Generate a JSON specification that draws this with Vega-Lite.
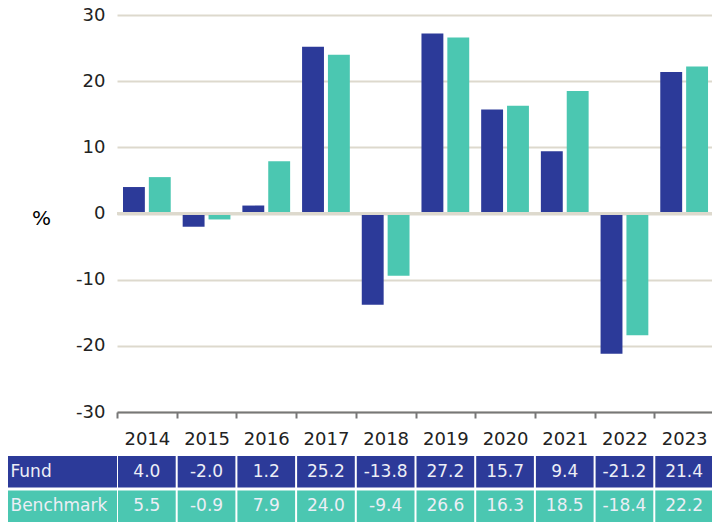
{
  "$schema": "https://vega.github.io/schema/vega-lite/v6.json",
  "padding": {"left": 8, "top": 6, "right": 0, "bottom": 0},
  "autosize": {"type": "pad"},
  "config": {
    "view": {"stroke": null},
    "font": "DejaVu Sans",
    "axis": {"labelFont": "DejaVu Sans", "titleFont": "DejaVu Sans"},
    "locale": {
      "number": {
        "decimal": ".",
        "thousands": ",",
        "grouping": [3],
        "currency": ["$", ""],
        "minus": "-"
      }
    }
  },
  "datasets": {
    "perf": [
      {"year": "2014", "series": "Fund", "value": 4.0},
      {"year": "2015", "series": "Fund", "value": -2.0},
      {"year": "2016", "series": "Fund", "value": 1.2},
      {"year": "2017", "series": "Fund", "value": 25.2},
      {"year": "2018", "series": "Fund", "value": -13.8},
      {"year": "2019", "series": "Fund", "value": 27.2},
      {"year": "2020", "series": "Fund", "value": 15.7},
      {"year": "2021", "series": "Fund", "value": 9.4},
      {"year": "2022", "series": "Fund", "value": -21.2},
      {"year": "2023", "series": "Fund", "value": 21.4},
      {"year": "2014", "series": "Benchmark", "value": 5.5},
      {"year": "2015", "series": "Benchmark", "value": -0.9},
      {"year": "2016", "series": "Benchmark", "value": 7.9},
      {"year": "2017", "series": "Benchmark", "value": 24.0},
      {"year": "2018", "series": "Benchmark", "value": -9.4},
      {"year": "2019", "series": "Benchmark", "value": 26.6},
      {"year": "2020", "series": "Benchmark", "value": 16.3},
      {"year": "2021", "series": "Benchmark", "value": 18.5},
      {"year": "2022", "series": "Benchmark", "value": -18.4},
      {"year": "2023", "series": "Benchmark", "value": 22.2}
    ]
  },
  "columns": 2,
  "bounds": "flush",
  "spacing": {"row": 44, "column": 0},
  "concat": [
    {
      "width": 109,
      "height": 397,
      "data": {"values": []},
      "mark": "point"
    },
    {
      "width": 597,
      "height": 397,
      "data": {"name": "perf"},
      "layer": [
        {
          "mark": {"type": "bar"},
          "encoding": {
            "x": {
              "field": "year",
              "type": "ordinal",
              "scale": {"paddingInner": 0, "paddingOuter": 0},
              "axis": {
                "title": null,
                "labelAngle": 0,
                "labelFontSize": 18,
                "labelColor": "#222222",
                "labelPadding": 12,
                "domainColor": "#777777",
                "domainWidth": 2,
                "tickColor": "#777777",
                "tickWidth": 2,
                "tickSize": 6,
                "tickBand": "extent",
                "grid": false
              }
            },
            "xOffset": {
              "field": "series",
              "type": "nominal",
              "sort": ["Fund", "Benchmark"],
              "scale": {"paddingInner": 0.1538, "paddingOuter": 0.2308}
            },
            "y": {
              "field": "value",
              "type": "quantitative",
              "scale": {"domain": [-30, 30], "nice": false},
              "axis": {
                "values": [-30, -20, -10, 0, 10, 20, 30],
                "title": "%",
                "titleAngle": 0,
                "titleFontSize": 20,
                "titleFontWeight": "normal",
                "titleColor": "#000000",
                "titleAlign": "center",
                "titleBaseline": "middle",
                "titleX": -76,
                "titleY": 203,
                "domain": false,
                "ticks": false,
                "labelPadding": 12,
                "labelFontSize": 18,
                "labelColor": "#222222",
                "gridColor": "#ddd9cd",
                "gridWidth": 2
              }
            },
            "color": {
              "field": "series",
              "type": "nominal",
              "scale": {"domain": ["Fund", "Benchmark"], "range": ["#2c3a99", "#4bc7b1"]},
              "legend": null
            }
          }
        },
        {
          "mark": {"type": "rule", "color": "#ddd9cd", "strokeWidth": 2},
          "encoding": {"y": {"datum": 0}}
        }
      ]
    },
    {
      "width": 109,
      "height": 66,
      "data": {"values": [{"series": "Fund"}, {"series": "Benchmark"}]},
      "mark": {"type": "rect"},
      "encoding": {
        "y": {
          "field": "series",
          "type": "nominal",
          "sort": ["Fund", "Benchmark"],
          "scale": {"paddingInner": 0.09, "paddingOuter": 0},
          "axis": null
        },
        "color": {
          "field": "series",
          "type": "nominal",
          "scale": {"domain": ["Fund", "Benchmark"], "range": ["#2c3a99", "#4bc7b1"]},
          "legend": null
        }
      }
    },
    {
      "width": 597,
      "height": 66,
      "data": {"name": "perf"},
      "encoding": {
        "x": {
          "field": "year",
          "type": "ordinal",
          "scale": {"paddingInner": 0.0335, "paddingOuter": 0.01675},
          "axis": null
        },
        "y": {
          "field": "series",
          "type": "nominal",
          "sort": ["Fund", "Benchmark"],
          "scale": {"paddingInner": 0.09, "paddingOuter": 0},
          "axis": {
            "title": null,
            "domain": false,
            "ticks": false,
            "labelAlign": "left",
            "labelPadding": 107,
            "labelFontSize": 17,
            "labelColor": "#eceef6"
          }
        }
      },
      "layer": [
        {
          "mark": {"type": "rect"},
          "encoding": {
            "color": {
              "field": "series",
              "type": "nominal",
              "scale": {"domain": ["Fund", "Benchmark"], "range": ["#2c3a99", "#4bc7b1"]},
              "legend": null
            }
          }
        },
        {
          "mark": {"type": "text", "fontSize": 17, "color": "#eceef6"},
          "encoding": {"text": {"field": "value", "type": "quantitative", "format": ".1f"}}
        }
      ]
    }
  ]
}
